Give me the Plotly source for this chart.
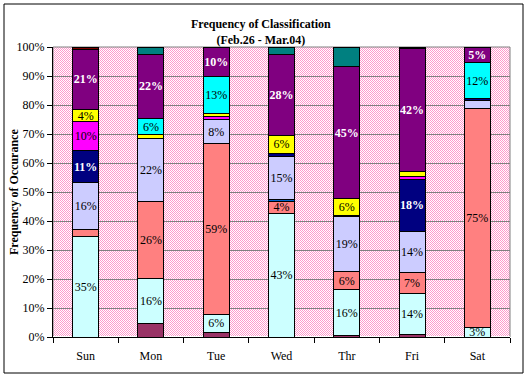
import base64, struct, zlib
import plotly.graph_objects as go

days = ["Sun", "Mon", "Tue", "Wed", "Thr", "Fri", "Sat"]

plum      = [0.0, 4.6, 1.7, 0.0, 0.6, 0.9, 0.0]
lightcyan = [34.6, 15.6, 6.1, 42.6, 15.6, 14.1, 3.4]
salmon    = [2.5, 26.4, 58.8, 4.0, 6.4, 7.2, 75.4]
blue      = [0.0, 0.0, 0.0, 0.7, 0.0, 0.0, 0.0]
lavender  = [16.1, 21.9, 8.3, 14.9, 18.8, 14.1, 2.8]
navy      = [11.3, 0.0, 0.0, 1.0, 0.5, 18.1, 0.6]
magenta   = [9.8, 0.0, 1.2, 0.0, 0.0, 0.9, 0.0]
yellow    = [4.3, 1.1, 0.9, 6.3, 5.8, 1.7, 0.0]
cyan      = [0.0, 5.8, 13.0, 0.0, 0.0, 0.0, 12.4]
purple    = [20.7, 21.8, 10.0, 27.6, 45.3, 42.4, 5.4]
maroon    = [0.8, 0.0, 0.0, 0.0, 0.0, 0.6, 0.0]
teal      = [0.0, 2.7, 0.0, 2.7, 6.8, 0.0, 0.0]

y_ticks = [0, 10, 20, 30, 40, 50, 60, 70, 80, 90, 100]
y_tick_text = [f"{v}%" for v in y_ticks]

series = [
    (plum, "#993366", False, "black", False),
    (lightcyan, "#CCFFFF", True, "black", False),
    (salmon, "#FF8080", True, "black", False),
    (blue, "#0066CC", False, "black", False),
    (lavender, "#CCCCFF", True, "black", False),
    (navy, "#000080", True, "white", True),
    (magenta, "#FF00FF", True, "black", False),
    (yellow, "#FFFF00", True, "black", False),
    (cyan, "#00FFFF", True, "black", False),
    (purple, "#800080", True, "white", True),
    (maroon, "#800000", False, "black", False),
    (teal, "#008080", False, "black", False),
]

# checkerboard background image (Excel 50% pattern)
W, H = 457, 290
def make_png(w, h):
    raw = bytearray()
    for yy in range(h):
        raw.append(0)
        for xx in range(w):
            if (xx + yy) % 2 == 0:
                raw += bytes((255, 153, 204))
            else:
                raw += bytes((255, 255, 255))
    def chunk(t, d):
        c = struct.pack(">I", len(d)) + t + d
        return c + struct.pack(">I", zlib.crc32(t + d) & 0xffffffff)
    png = b"\x89PNG\r\n\x1a\n"
    png += chunk(b"IHDR", struct.pack(">IIBBBBB", w, h, 8, 2, 0, 0, 0))
    png += chunk(b"IDAT", zlib.compress(bytes(raw), 9))
    png += chunk(b"IEND", b"")
    return "data:image/png;base64," + base64.b64encode(png).decode()

fig = go.Figure()
for vals, color, labeled, tcolor, bold in series:
    texts = []
    for v in vals:
        if labeled and v >= 3:
            t = f"{round(v)}%"
            texts.append(f"<b>{t}</b>" if bold else t)
        else:
            texts.append("")
    fig.add_trace(go.Bar(
        x=days, y=vals, marker=dict(color=color, line=dict(color="black", width=1)),
        text=texts, textposition="inside", insidetextanchor="middle", textangle=0,
        insidetextfont=dict(family="Liberation Serif", size=12, color=tcolor),
        cliponaxis=False, hoverinfo="skip",
    ))

fig.update_layout(
    width=528, height=379,
    barmode="stack", barnorm="percent", bargap=0.6,
    showlegend=False,
    paper_bgcolor="white", plot_bgcolor="rgba(0,0,0,0)",
    margin=dict(l=53, r=18, t=47, b=42),
    font=dict(family="Liberation Serif", size=12, color="black"),
    uniformtext=dict(minsize=12, mode="show"),
    title=dict(
        text="<b>Frequency of Classification</b><br><b>(Feb.26 - Mar.04)</b>",
        x=0.494, xanchor="center", y=0.925, yanchor="top",
        font=dict(family="Liberation Serif", size=12, color="black"),
    ),
    xaxis=dict(
        showline=True, linecolor="black", linewidth=1,
        ticks="outside", ticklen=5, tickcolor="black", tickson="boundaries",
        ticklabelstandoff=8, showgrid=False,
        tickfont=dict(family="Liberation Serif", size=12),
    ),
    yaxis=dict(
        range=[0, 100], tickvals=y_ticks, ticktext=y_tick_text,
        showline=True, linecolor="black", linewidth=1,
        ticks="outside", ticklen=5, tickcolor="black",
        showgrid=True, gridcolor="#808080", gridwidth=1,
        tickfont=dict(family="Liberation Serif", size=12),
    ),
    images=[dict(source=make_png(W, H), xref="paper", yref="paper",
                 x=0, y=1, sizex=1, sizey=1, sizing="stretch",
                 xanchor="left", yanchor="top", layer="below")],
    shapes=[
        dict(type="rect", xref="paper", yref="paper", x0=0, x1=1, y0=0, y1=1,
             line=dict(color="#808080", width=1), layer="below"),
    ],
    annotations=[
        dict(text="<b>Frequency of Occurance</b>", textangle=-90,
             xref="paper", yref="paper", x=(14 - 53) / 457, y=0.5,
             xanchor="center", yanchor="middle", showarrow=False,
             font=dict(family="Liberation Serif", size=12, color="black")),
    ],
)

# outer chart border
fig.add_shape(type="rect", xref="paper", yref="paper",
              x0=(4 - 53) / 457, x1=(523 - 53) / 457,
              y0=1 - (373 - 47) / 290, y1=1 + (47 - 4) / 290,
              line=dict(color="black", width=1), fillcolor="rgba(0,0,0,0)")

fig.write_html("out.html", config={"displayModeBar": False},
               post_script="document.body.style.margin='0';")
